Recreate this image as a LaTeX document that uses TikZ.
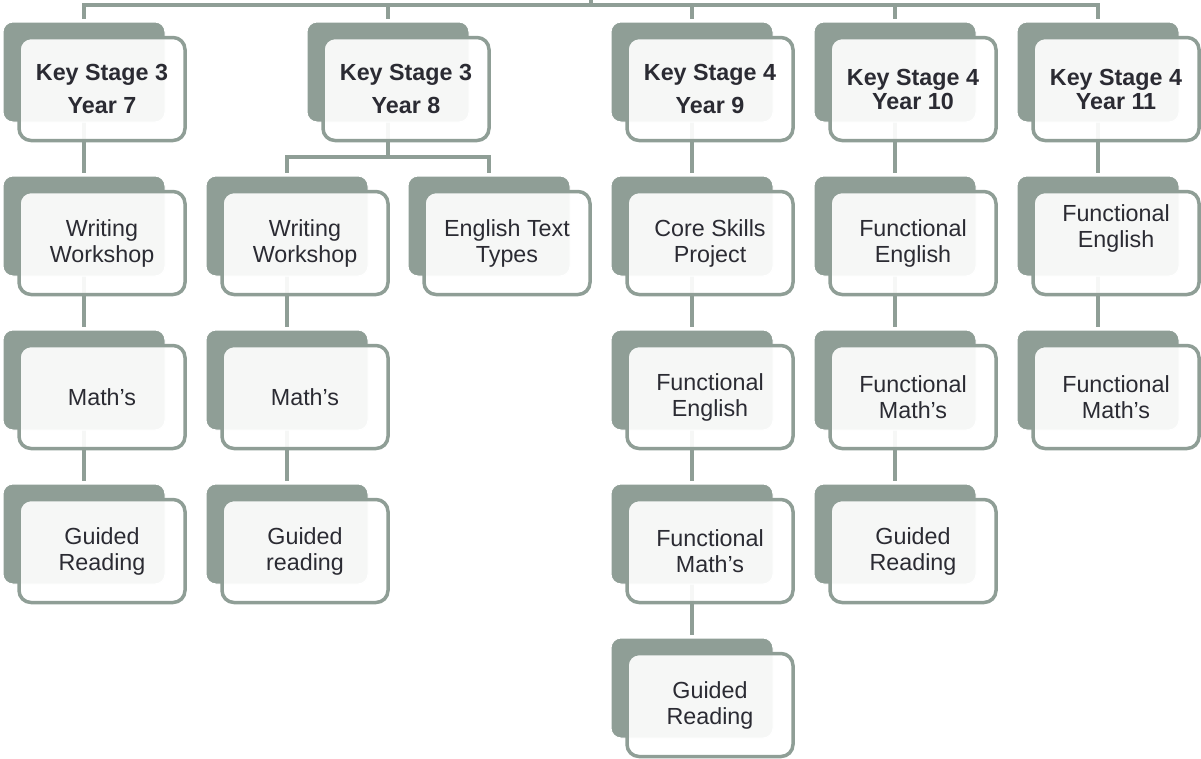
\documentclass[tikz,border=0pt]{standalone}
\usepackage{fontspec}
\setmainfont{Liberation Sans}
\usepackage{xcolor}
\usepackage{tikz}
\usetikzlibrary{positioning, backgrounds}
\definecolor{stagegray}{HTML}{8F9E96}
\definecolor{textdark}{HTML}{2B2B33}
\tikzstyle{backbox} = [rectangle, 
rounded corners=10pt, 
minimum width=162pt, 
minimum height=100pt, 
inner sep=0pt, 
outer sep=0pt, 
draw=white, 
line width=1pt, 
fill=stagegray]
\tikzstyle{frontbox} = [rectangle, 
rounded corners=12pt, 
minimum width=166pt, 
minimum height=103pt, 
align=center, 
draw=stagegray, 
line width=3.5pt, 
fill=white, 
fill opacity=0.92, 
text opacity=1, 
text=textdark, 
font=\fontsize{23.3}{26}\selectfont]
\tikzstyle{link} = [draw=stagegray, line width=4pt, shorten >=3pt]
% back card and front card of one entry
\newcommand{\course}[3]{%
  \node[backbox, #2] (#1) {};
  \node[frontbox] (#1f) at ([xshift=18pt,yshift=-17pt]#1.center) {#3};}

\begin{document}
\begin{tikzpicture}[x=1pt, y=-1pt, node distance=54pt]
  \useasboundingbox (0,0) rectangle (1201,758);

  % key stages
  \course{y7}{at={(84,72)}}{\textbf{Key Stage 3}\\[7pt]\textbf{Year 7}}
  \course{y8}{at={(388,72)}}{\textbf{Key Stage 3}\\[7pt]\textbf{Year 8}}
  \course{y9}{at={(692,72)}}{\textbf{Key Stage 4}\\[7pt]\textbf{Year 9}}
  \course{y10}{at={(895,72)}}{\textbf{Key Stage 4}\\[-2pt]\textbf{Year 10}}
  \course{y11}{at={(1098,72)}}{\textbf{Key Stage 4}\\[-2pt]\textbf{Year 11}}

  % year 7
  \course{w7}{below=of y7}{Writing\\Workshop}
  \course{m7}{below=of w7}{Math’s}
  \course{g7}{below=of m7}{Guided\\Reading}

  % year 8
  \course{w8}{below=of y8, xshift=-101pt}{Writing\\Workshop}
  \course{t8}{below=of y8, xshift=101pt}{English Text\\Types}
  \course{m8}{below=of w8}{Math’s}
  \course{g8}{below=of m8}{Guided\\reading}

  % year 9
  \course{c9}{below=of y9}{Core Skills\\Project}
  \course{e9}{below=of c9}{Functional\\English}
  \course{m9}{below=of e9}{Functional\\Math’s}
  \course{g9}{below=of m9}{Guided\\Reading}

  % year 10
  \course{e10}{below=of y10}{Functional\\English}
  \course{m10}{below=of e10}{Functional\\Math’s}
  \course{g10}{below=of m10}{Guided\\Reading}

  % year 11
  \course{e11}{below=of y11}{Functional\\English\\[8pt]~}
  \course{m11}{below=of e11}{Functional\\Math’s}

  \begin{scope}[on background layer]
    \coordinate (root) at (591,0);
    \coordinate (top) at (591,5);
    \draw [link, shorten >=0pt] (root) -- (top);
    \foreach \k in {y7, y8, y9, y10, y11}
      \draw [link] (top) -| (\k.north);
    \draw [link] (y7) -- (w7);
    \draw [link] (w7) -- (m7);
    \draw [link] (m7) -- (g7);
    \draw [link] (y8.south) -- ++(0,35) -| (w8.north);
    \draw [link] (y8.south) -- ++(0,35) -| (t8.north);
    \draw [link] (w8) -- (m8);
    \draw [link] (m8) -- (g8);
    \draw [link] (y9) -- (c9);
    \draw [link] (c9) -- (e9);
    \draw [link] (e9) -- (m9);
    \draw [link] (m9) -- (g9);
    \draw [link] (y10) -- (e10);
    \draw [link] (e10) -- (m10);
    \draw [link] (m10) -- (g10);
    \draw [link] (y11) -- (e11);
    \draw [link] (e11) -- (m11);
  \end{scope}

\end{tikzpicture}
\end{document}
